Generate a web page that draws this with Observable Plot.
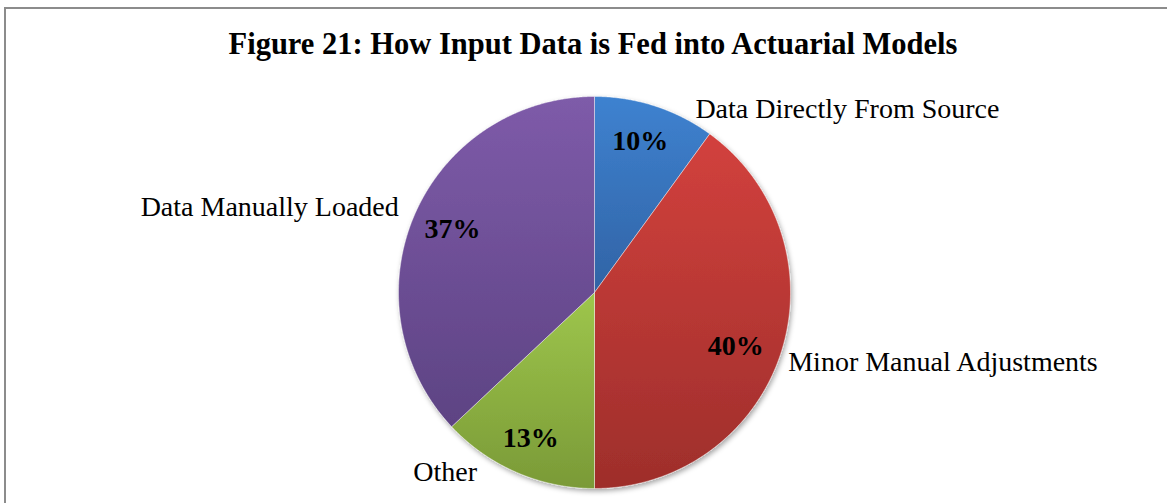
<!DOCTYPE html>
<html>
<head>
<meta charset="utf-8">
<script src="https://cdn.jsdelivr.net/npm/d3@7"></script>
<script src="https://cdn.jsdelivr.net/npm/@observablehq/plot@0.6"></script>
<style>
  html, body { margin: 0; padding: 0; background: #fff; }
  #wrap { position: relative; width: 1167px; height: 503px; overflow: hidden; }
  #frame { position: absolute; left: 4px; top: 7px; width: 1300px; height: 700px;
           border-left: 2px solid #8c8c8c; border-top: 2px solid #8c8c8c; }
  #title { position: relative; height: 70px; box-sizing: border-box; padding-top: 28.5px;
           width: 1186px; text-align: center; font: 700 30.5px/30.5px "Liberation Serif", serif; color: #000; }
  #chart { position: relative; }
</style>
</head>
<body>
<div id="wrap">
  <div id="frame"></div>
  <div id="title">Figure 21: How Input Data is Fed into Actuarial Models</div>
  <div id="chart"></div>
</div>
<script>
// ---- data ----
const categories = ["Data Directly From Source", "Minor Manual Adjustments", "Other", "Data Manually Loaded"];
const shares = [10, 40, 13, 37];
const shareLabels = ["10%", "40%", "13%", "37%"];

// ---- styling / layout (same order as categories) ----
const gradStops = [["#3e82d0", "#3163a5"], ["#d2413d", "#9e2e2b"], ["#9ec64c", "#7a9a37"], ["#7e5ba9", "#5d4383"]];
const labelNudge = [[36, 16], [-6, 4.5], [-34, -13], [-3, -2]];
const pctNudge = [[-3, -1], [-9, 5], [-1, 1], [3, -1]];
const W = 1167, H = 433, CX = 594, CY = 222, R = 196;
const FONT = "Liberation Serif";

const arcs = d3.pie().sort(null).value(d => d)(shares);
const slices = arcs.map((a, i) => ({
  i, label: categories[i], pct: shareLabels[i],
  a0: a.startAngle, a1: a.endAngle, mid: (a.startAngle + a.endAngle) / 2
}));

const points = [];
for (const s of slices) {
  points.push({i: s.i, x: 0, y: 0});
  const n = Math.max(2, Math.ceil((s.a1 - s.a0) / 0.005));
  for (let k = 0; k <= n; k++) {
    const t = s.a0 + (s.a1 - s.a0) * k / n;
    points.push({i: s.i, x: Math.sin(t), y: Math.cos(t)});
  }
  points.push({i: s.i, x: 0, y: 0});
}

const lr = (R + 14) / R;
const rightLabels = slices.filter(s => Math.sin(s.mid) > 0);
const leftLabels = slices.filter(s => Math.sin(s.mid) <= 0);
const lx = s => lr * Math.sin(s.mid) + labelNudge[s.i][0] / R;
const ly = s => lr * Math.cos(s.mid) - labelNudge[s.i][1] / R;

const svg = Plot.plot({
  width: W, height: H,
  marginTop: 0, marginRight: 0, marginBottom: 0, marginLeft: 0,
  x: {domain: [-CX / R, (W - CX) / R], range: [0, W], axis: null},
  y: {domain: [-(H - CY) / R, CY / R], range: [H, 0], axis: null},
  color: {type: "identity"},
  style: {background: "transparent", overflow: "visible"},
  marks: [
    Plot.line(points, {x: "x", y: "y", z: "i", fill: d => `url(#slice-grad-${d.i})`,
      stroke: "#ffffff", strokeWidth: 0.8, strokeOpacity: 0.55, strokeLinejoin: "round"}),
    Plot.text(slices, {
      x: s => 0.806 * Math.sin(s.mid) + pctNudge[s.i][0] / R,
      y: s => 0.806 * Math.cos(s.mid) - pctNudge[s.i][1] / R,
      text: "pct", fontFamily: FONT, fontSize: 28, fontWeight: "bold", fill: "#000"
    }),
    Plot.text(rightLabels, {x: lx, y: ly, text: "label", textAnchor: "start",
      fontFamily: FONT, fontSize: 28, fill: "#000"}),
    Plot.text(leftLabels, {x: lx, y: ly, text: "label", textAnchor: "end",
      fontFamily: FONT, fontSize: 28, fill: "#000"})
  ]
});

const defs = d3.select(svg).insert("defs", ":first-child");
gradStops.forEach((c, i) => {
  const g = defs.append("linearGradient").attr("id", `slice-grad-${i}`)
    .attr("x1", 0).attr("y1", 0).attr("x2", 0).attr("y2", 1);
  g.append("stop").attr("offset", "0%").attr("stop-color", c[0]);
  g.append("stop").attr("offset", "100%").attr("stop-color", c[1]);
});
const f = defs.append("filter").attr("id", "pie-shadow")
  .attr("x", "-10%").attr("y", "-10%").attr("width", "120%").attr("height", "120%");
f.append("feDropShadow").attr("dx", 1.5).attr("dy", 2.5).attr("stdDeviation", 2.5)
  .attr("flood-color", "#000").attr("flood-opacity", 0.35);
d3.select(svg).select('g[aria-label="line"]').attr("filter", "url(#pie-shadow)");

document.getElementById("chart").appendChild(svg);
</script>
</body>
</html>
